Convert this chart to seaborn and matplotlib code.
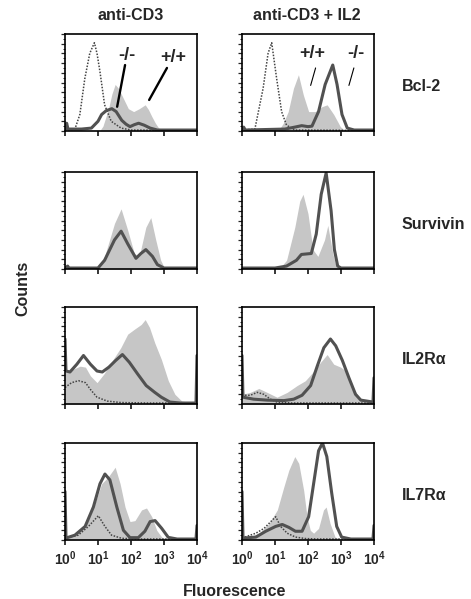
import numpy as np
import matplotlib
matplotlib.use("Agg")
import matplotlib.pyplot as plt
import seaborn as sns

# ---------------------------------------------------------------
# Data: (log10 fluorescence, relative counts)
# wt = +/+ (filled), ko = -/- (thick line), iso = control (dotted)
# ---------------------------------------------------------------
conditions = ["anti-CD3", "anti-CD3 + IL2"]
markers = ["Bcl-2", "Survivin", "IL2R\u03b1", "IL7R\u03b1"]
decade_labels = [r"$\mathbf{10^{%d}}$" % k for k in range(5)]

bcl2_cd3_wt = [(0, 0), (1.05, 0), (1.15, 0.05), (1.32, 0.23), (1.42, 0.38), (1.52, 0.48),
               (1.62, 0.44), (1.72, 0.37), (1.82, 0.3), (1.92, 0.23), (2.08, 0.2),
               (2.25, 0.23), (2.43, 0.27), (2.53, 0.22), (2.63, 0.15), (2.74, 0.08),
               (2.84, 0.03), (3.0, 0.01), (4.0, 0.01)]
bcl2_cd3_ko = [(0, 0.01), (0.05, 0.08), (0.09, 0.02), (0.5, 0.02), (0.8, 0.03), (1.0, 0.1),
               (1.11, 0.17), (1.25, 0.21), (1.42, 0.23), (1.55, 0.2), (1.72, 0.11),
               (1.85, 0.07), (1.97, 0.045), (2.1, 0.065), (2.23, 0.08), (2.4, 0.06),
               (2.58, 0.03), (2.8, 0.01), (4.0, 0.01)]
bcl2_cd3_iso = [(0, 0.01), (0.3, 0.02), (0.45, 0.17), (0.6, 0.54), (0.75, 0.8), (0.89, 0.91),
                (0.97, 0.8), (1.06, 0.61), (1.2, 0.27), (1.4, 0.1), (1.7, 0.03), (2.0, 0.01),
                (4.0, 0.005)]

bcl2_il2_wt = [(0, 0), (1.1, 0), (1.25, 0.08), (1.4, 0.2), (1.56, 0.44), (1.71, 0.58),
               (1.86, 0.37), (2.02, 0.2), (2.22, 0.2), (2.42, 0.25), (2.58, 0.27),
               (2.78, 0.17), (2.98, 0.045), (3.1, 0.01), (4.0, 0.01)]
bcl2_il2_ko = [(0, 0.01), (0.05, 0.04), (0.1, 0.01), (1.3, 0.02), (1.6, 0.04), (1.81, 0.055),
               (2.0, 0.045), (2.12, 0.05), (2.32, 0.2), (2.52, 0.48), (2.75, 0.68),
               (2.88, 0.48), (3.03, 0.17), (3.19, 0.03), (3.4, 0.01), (4.0, 0.01)]
bcl2_il2_iso = [(0, 0.01), (0.39, 0.02), (0.64, 0.44), (0.79, 0.8), (0.9, 0.91), (1.05, 0.54),
                (1.2, 0.2), (1.35, 0.06), (1.6, 0.01), (4.0, 0.005)]

surv_cd3_wt = [(0, 0), (0.9, 0), (1.05, 0.04), (1.2, 0.13), (1.5, 0.47), (1.7, 0.62),
               (1.9, 0.4), (2.1, 0.16), (2.25, 0.13), (2.45, 0.43), (2.6, 0.53),
               (2.75, 0.3), (2.9, 0.09), (3.0, 0.02), (3.1, 0), (4.0, 0)]
surv_cd3_ko = [(0, 0.01), (0.08, 0.03), (0.12, 0.01), (1.0, 0.01), (1.2, 0.09), (1.5, 0.3),
               (1.7, 0.39), (1.9, 0.26), (2.15, 0.11), (2.3, 0.16), (2.45, 0.2),
               (2.65, 0.13), (2.8, 0.045), (3.0, 0.01), (4.0, 0.01)]

surv_il2_wt = [(0, 0), (1.05, 0), (1.2, 0.03), (1.35, 0.09), (1.6, 0.43), (1.75, 0.7),
               (1.85, 0.77), (2.0, 0.57), (2.15, 0.2), (2.3, 0.13), (2.5, 0.3), (2.6, 0.45),
               (2.75, 0.16), (2.85, 0.03), (2.95, 0), (4.0, 0)]
surv_il2_ko = [(0, 0.01), (1.0, 0.01), (1.35, 0.03), (1.65, 0.09), (1.8, 0.15), (2.1, 0.16),
               (2.25, 0.36), (2.4, 0.77), (2.55, 0.99), (2.7, 0.6), (2.8, 0.2), (2.9, 0.03),
               (3.0, 0.01), (4.0, 0.01)]

il2r_cd3_wt = [(0, 0.33), (0.26, 0.36), (0.46, 0.39), (0.62, 0.38), (0.77, 0.29),
               (0.97, 0.22), (1.18, 0.31), (1.44, 0.45), (1.69, 0.58), (1.9, 0.72),
               (2.1, 0.77), (2.31, 0.82), (2.43, 0.87), (2.56, 0.79), (2.72, 0.63),
               (2.92, 0.46), (3.13, 0.24), (3.33, 0.1), (3.54, 0.03), (3.74, 0.02), (4.0, 0.02)]
il2r_cd3_ko = [(0, 0.67), (0.03, 0.34), (0.15, 0.33), (0.36, 0.41), (0.56, 0.5), (0.77, 0.41),
               (0.97, 0.34), (1.13, 0.33), (1.33, 0.38), (1.54, 0.45), (1.74, 0.51),
               (1.95, 0.43), (2.2, 0.31), (2.46, 0.19), (2.72, 0.12), (2.92, 0.07),
               (3.18, 0.02), (3.5, 0.01), (3.97, 0.01), (4.0, 0.5)]
il2r_cd3_iso = [(0, 0.17), (0.2, 0.22), (0.41, 0.24), (0.62, 0.22), (0.77, 0.15), (0.97, 0.07),
                (1.28, 0.03), (1.69, 0.015), (2.5, 0.01), (4.0, 0.01)]

il2r_il2_wt = [(0, 0.1), (0.25, 0.12), (0.51, 0.16), (0.76, 0.12), (1.06, 0.07), (1.37, 0.12),
               (1.67, 0.19), (1.92, 0.24), (2.18, 0.34), (2.38, 0.43), (2.58, 0.51),
               (2.78, 0.41), (2.99, 0.38), (3.19, 0.33), (3.39, 0.15), (3.6, 0.05),
               (3.85, 0.03), (4.0, 0.03)]
il2r_il2_ko = [(0, 0.5), (0.03, 0.07), (0.35, 0.05), (0.76, 0.04), (1.27, 0.035), (1.57, 0.05),
               (1.82, 0.09), (2.08, 0.19), (2.28, 0.39), (2.48, 0.58), (2.68, 0.67),
               (2.84, 0.6), (3.04, 0.45), (3.24, 0.27), (3.44, 0.1), (3.6, 0.04),
               (3.97, 0.02), (4.0, 0.27)]
il2r_il2_iso = [(0, 0.09), (0.25, 0.09), (0.46, 0.12), (0.66, 0.1), (0.86, 0.05), (1.06, 0.02),
                (1.5, 0.01), (4.0, 0.01)]

il7r_cd3_wt = [(0, 0.02), (0.1, 0.03), (0.4, 0.07), (0.66, 0.17), (0.91, 0.38), (1.11, 0.58),
               (1.31, 0.65), (1.52, 0.75), (1.67, 0.58), (1.82, 0.34), (1.97, 0.19),
               (2.12, 0.2), (2.32, 0.31), (2.47, 0.33), (2.63, 0.24), (2.78, 0.1),
               (2.93, 0.03), (3.1, 0.01), (4.0, 0.01)]
il7r_cd3_ko = [(0, 0.5), (0.03, 0.02), (0.3, 0.05), (0.61, 0.14), (0.86, 0.34), (1.06, 0.58),
               (1.21, 0.68), (1.36, 0.62), (1.57, 0.34), (1.77, 0.1), (1.97, 0.024),
               (2.22, 0.024), (2.42, 0.09), (2.58, 0.19), (2.73, 0.2), (2.93, 0.12),
               (3.13, 0.027), (3.4, 0.01), (3.97, 0.01), (4.0, 0.15)]
il7r_cd3_iso = [(0, 0.02), (0.4, 0.05), (0.71, 0.14), (1.01, 0.25), (1.21, 0.14), (1.41, 0.05),
                (1.72, 0.017), (2.2, 0.01), (4.0, 0.01)]

il7r_il2_wt = [(0, 0.02), (0.22, 0.03), (0.52, 0.07), (0.82, 0.17), (1.07, 0.31), (1.27, 0.55),
               (1.42, 0.72), (1.6, 0.86), (1.72, 0.79), (1.87, 0.51), (1.97, 0.24),
               (2.07, 0.1), (2.17, 0.07), (2.32, 0.12), (2.47, 0.31), (2.55, 0.34),
               (2.67, 0.17), (2.82, 0.03), (3.0, 0.01), (4.0, 0.01)]
il7r_il2_ko = [(0, 0.5), (0.03, 0.02), (0.42, 0.03), (0.72, 0.09), (1.02, 0.14), (1.22, 0.16),
               (1.42, 0.13), (1.62, 0.09), (1.82, 0.09), (2.02, 0.24), (2.17, 0.58),
               (2.32, 0.92), (2.44, 1.0), (2.57, 0.86), (2.72, 0.48), (2.87, 0.14),
               (3.02, 0.03), (3.3, 0.01), (3.97, 0.01), (4.0, 0.15)]
il7r_il2_iso = [(0, 0.02), (0.42, 0.07), (0.67, 0.12), (1.02, 0.24), (1.17, 0.14), (1.37, 0.07),
                (1.62, 0.03), (1.92, 0.015), (2.3, 0.01), (4.0, 0.01)]

panels = [
    [(bcl2_cd3_wt, bcl2_cd3_ko, bcl2_cd3_iso), (bcl2_il2_wt, bcl2_il2_ko, bcl2_il2_iso)],
    [(surv_cd3_wt, surv_cd3_ko, None), (surv_il2_wt, surv_il2_ko, None)],
    [(il2r_cd3_wt, il2r_cd3_ko, il2r_cd3_iso), (il2r_il2_wt, il2r_il2_ko, il2r_il2_iso)],
    [(il7r_cd3_wt, il7r_cd3_ko, il7r_cd3_iso), (il7r_il2_wt, il7r_il2_ko, il7r_il2_iso)],
]

# genotype labels on the Bcl-2 row: (text, text pos, line start, line end, line width)
genotype_notes = [
    [("-/-", (1.88, 0.78), (1.82, 0.68), (1.58, 0.25), 1.7),
     ("+/+", (3.27, 0.76), (3.09, 0.65), (2.55, 0.32), 1.7)],
    [("+/+", (2.14, 0.80), (2.23, 0.65), (2.08, 0.47), 0.8),
     ("-/-", (3.45, 0.80), (3.39, 0.65), (3.24, 0.47), 0.8)],
]

FILL = "#c6c6c6"
KO = "#515151"
ISO = "#444444"

sns.set_style("ticks")
plt.rcParams["font.family"] = ["Liberation Sans", "DejaVu Sans"]
plt.rcParams["mathtext.fontset"] = "custom"
plt.rcParams["mathtext.rm"] = "Liberation Sans"
plt.rcParams["mathtext.bf"] = "Liberation Sans:bold"

fig = plt.figure(figsize=(4.71, 5.99), dpi=100)

col_left = [65 / 471, 242 / 471]
ax_w = 132 / 471
row_bottom = [1 - 131 / 599, 1 - 269 / 599, 1 - 404 / 599, 1 - 540 / 599]
ax_h = 97 / 599


def curve(pts):
    a = np.array(pts, dtype=float)
    return 10 ** a[:, 0], a[:, 1]


for r in range(4):
    for c in range(2):
        ax = fig.add_axes([col_left[c], row_bottom[r], ax_w, ax_h])
        ax.set_xscale("log")
        wt, ko, iso = panels[r][c]

        x, y = curve(wt)
        ax.fill_between(x, y, 0, color=FILL, lw=0)
        if iso is not None:
            x, y = curve(iso)
            sns.lineplot(x=x, y=y, ax=ax, color=ISO, lw=1.1, linestyle=(0, (1, 1)),
                         sort=False, estimator=None)
        x, y = curve(ko)
        sns.lineplot(x=x, y=y, ax=ax, color=KO, lw=2.2, sort=False, estimator=None)

        ax.set_xlim(1, 1e4)
        ax.set_ylim(0, 1.0)
        ax.set_xlabel("")
        ax.set_ylabel("")
        for s in ax.spines.values():
            s.set_visible(True)
            s.set_linewidth(1.2)
            s.set_color("black")
        ax.set_yticks(np.arange(0, 1.01, 0.1))
        ax.set_yticks(np.arange(0, 1.01, 0.05), minor=True)
        ax.set_yticklabels([])
        ax.tick_params(axis="y", which="major", length=3, width=0.9, direction="out")
        ax.tick_params(axis="y", which="minor", length=1.5, width=0.7, direction="out")
        ax.set_xticks([1, 10, 100, 1000, 10000])
        ax.tick_params(axis="x", which="major", length=3.5, width=1.3, direction="out", pad=3)
        ax.tick_params(axis="x", which="minor", length=2, width=0.8, direction="out")
        if r == 3:
            ax.set_xticklabels(decade_labels, fontsize=10)
        else:
            ax.set_xticklabels([])

        if r == 0:
            for txt, tpos, l0, l1, lw in genotype_notes[c]:
                ax.annotate("", xy=(10 ** l1[0], l1[1]), xytext=(10 ** l0[0], l0[1]),
                            arrowprops=dict(arrowstyle="-", color="black", lw=lw,
                                            shrinkA=0, shrinkB=0))
                ax.text(10 ** tpos[0], tpos[1], txt, ha="center", va="center",
                        fontsize=13, fontweight="bold")

# column titles
fig.text(131 / 471, 1 - 15 / 599, conditions[0], ha="center", va="center",
         fontsize=11.5, fontweight="bold")
fig.text(307 / 471, 1 - 15 / 599, conditions[1], ha="center", va="center",
         fontsize=11.5, fontweight="bold")

# row labels
for r, name in enumerate(markers):
    yc = row_bottom[r] + ax_h / 2 - 4 / 599
    fig.text(402 / 471, yc, name, ha="left", va="center", fontsize=11.5, fontweight="bold")

fig.text(23 / 471, 1 - 288 / 599, "Counts", rotation=90, ha="center", va="center",
         fontsize=11.5, fontweight="bold")
fig.text(235 / 471, 1 - 591 / 599, "Fluorescence", ha="center", va="center",
         fontsize=11.5, fontweight="bold")

fig.savefig("out.png", dpi=100, facecolor="white")
